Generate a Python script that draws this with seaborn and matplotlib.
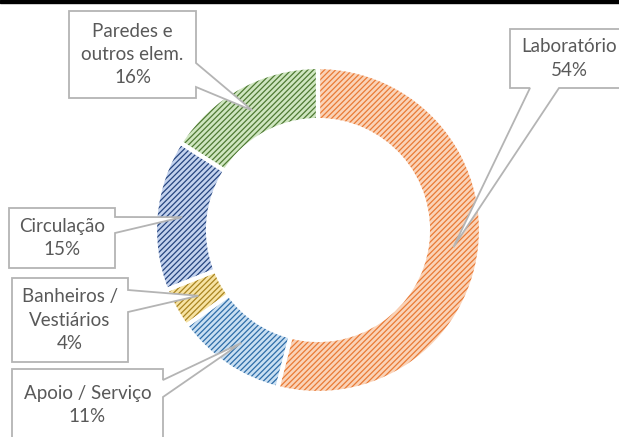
import numpy as np
import matplotlib
matplotlib.use("Agg")
import matplotlib.pyplot as plt
import seaborn as sns
from matplotlib.patches import Polygon, Rectangle

# ---- data ----
categories = ["Laboratório", "Apoio / Serviço", "Banheiros /\nVestiários", "Circulação", "Paredes e\noutros elem."]
values = [54, 11, 4, 15, 16]
fill_colors = ["#FAD3B8", "#C9DFF2", "#F7E3A3", "#C3D2EE", "#CFE6C0"]
hatch_colors = ["#E97A35", "#2E6DA8", "#A98420", "#26457F", "#4E7A33"]

sns.set_theme(style="white")
plt.rcParams["font.family"] = ["Lato", "DejaVu Sans"]
plt.rcParams["hatch.linewidth"] = 0.9

W_PX, H_PX = 619, 437
fig = plt.figure(figsize=(W_PX / 100, H_PX / 100), dpi=100)
ax = fig.add_axes([0, 0, 1, 1])

def Y(y):
    return H_PX - y

center = (318, Y(230))
R = 163
RW = 53

common = dict(startangle=90, counterclock=False, radius=R, center=center)
w1, _ = ax.pie(values, colors=fill_colors, wedgeprops=dict(width=RW, linewidth=0), **common)
w2, _ = ax.pie(values, colors=["none"] * len(values), wedgeprops=dict(width=RW, linewidth=0), **common)
for w, hc in zip(w2, hatch_colors):
    w.set_hatch("//////")
    w.set_edgecolor(hc)
    w.set_linewidth(0)
w3, _ = ax.pie(values, colors=["none"] * len(values),
               wedgeprops=dict(width=RW, linewidth=3, edgecolor="white"), **common)

ax.set_xlim(0, W_PX)
ax.set_ylim(0, H_PX)
ax.set_aspect("equal")
ax.axis("off")

# tips of callouts at the middle of each ring segment
tips = []
for w in w1:
    th = np.deg2rad((w.theta1 + w.theta2) / 2)
    r = R - RW / 2
    tips.append((center[0] + r * np.cos(th), center[1] + r * np.sin(th)))

# callout layout (pixel coords, y downward): box, side, span
layout = [
    ((510, 29, 628, 88), "bottom", (530, 559)),
    ((12, 369, 163, 441), "right", (380, 397)),
    ((12, 278, 128, 362), "right", (290, 312)),
    ((9, 208, 115, 268), "right", (217, 233)),
    ((69, 11, 196, 98), "right", (63, 87)),
]

def callout(box, side, span, tip):
    x0, y0, x1, y1 = box
    a, b = span
    tip_px = (tip[0], H_PX - tip[1])
    if side == "right":
        pts = [(x0, y0), (x1, y0), (x1, a), tip_px, (x1, b), (x1, y1), (x0, y1)]
    elif side == "bottom":
        pts = [(x0, y0), (x1, y0), (x1, y1), (b, y1), tip_px, (a, y1), (x0, y1)]
    else:
        pts = [(x0, y0), (a, y0), tip_px, (b, y0), (x1, y0), (x1, y1), (x0, y1)]
    pts = [(px, Y(py)) for px, py in pts]
    ax.add_patch(Polygon(pts, closed=True, facecolor="white", edgecolor="#B4B4B4",
                         linewidth=1.3, zorder=5))

for cat, val, (box, side, span), tip in zip(categories, values, layout, tips):
    callout(box, side, span, tip)
    cx = (box[0] + box[2]) / 2
    cy = (box[1] + box[3]) / 2
    ax.text(cx, Y(cy), f"{cat}\n{val}%", ha="center", va="center", fontsize=13.5,
            color="#595959", linespacing=1.45, zorder=6)

fig.add_artist(Rectangle((0, 1 - 3 / H_PX), 1, 3 / H_PX, transform=fig.transFigure,
                         color="black", zorder=10))

fig.savefig("out.png", dpi=100)
